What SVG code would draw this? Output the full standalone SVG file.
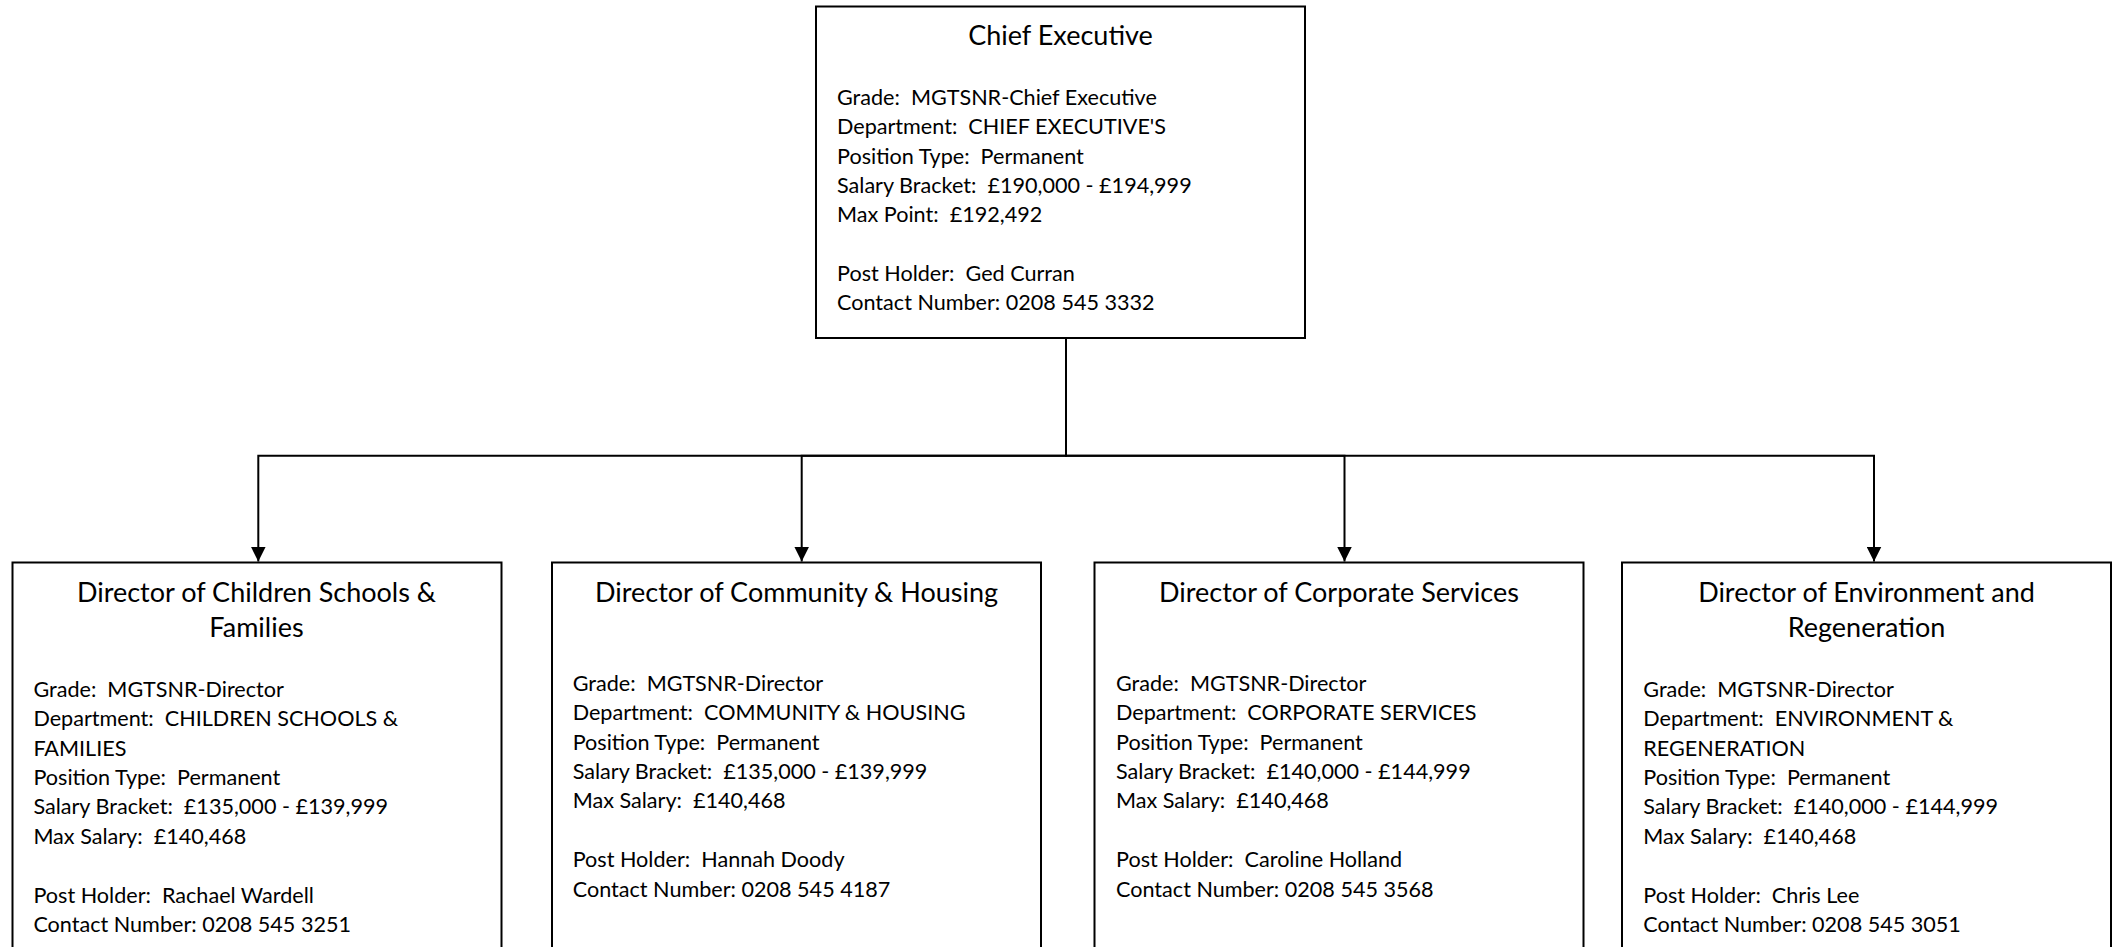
<svg xmlns="http://www.w3.org/2000/svg" width="2121" height="947" viewBox="0 0 2121 947">
<style>
.box{fill:#fff;stroke:#000;stroke-width:2}
.title{font-family:Lato,"Open Sans","Liberation Sans",sans-serif;font-size:27px;fill:#000;text-anchor:middle}
.body{font-family:Lato,"Open Sans","Liberation Sans",sans-serif;font-size:21.6px;fill:#000;white-space:pre}
.conn{fill:none;stroke:#000;stroke-width:2}
</style>
<defs>
<marker id="arr" viewBox="0 0 15 15" refX="15" refY="7.5" markerWidth="15" markerHeight="15" markerUnits="userSpaceOnUse" orient="auto">
<path d="M0,0 L15,7.5 L0,15 z" fill="#000"/>
</marker>
</defs>
<rect width="2121" height="947" fill="#fff"/>
<g id="connectors">
<path class="conn" d="M1066,338 V455.7 H258.3 V561.5" marker-end="url(#arr)"/>
<path class="conn" d="M1066,338 V455.7 H801.7 V561.5" marker-end="url(#arr)"/>
<path class="conn" d="M1066,338 V455.7 H1344.5 V561.5" marker-end="url(#arr)"/>
<path class="conn" d="M1066,338 V455.7 H1874 V561.5" marker-end="url(#arr)"/>
</g>
<g id="chief">
<rect class="box" x="816" y="6.5" width="489" height="331.5"/>
<text class="title" x="1060.5" y="45">Chief Executive</text>
<text class="body" xml:space="preserve"><tspan x="837" y="105">Grade:  MGTSNR-Chief Executive</tspan><tspan x="837" y="134.3">Department:  CHIEF EXECUTIVE'S</tspan><tspan x="837" y="163.5">Position Type:  Permanent</tspan><tspan x="837" y="192.8">Salary Bracket:  £190,000 - £194,999</tspan><tspan x="837" y="222">Max Point:  £192,492</tspan><tspan x="837" y="280.5">Post Holder:  Ged Curran</tspan><tspan x="837" y="309.8">Contact Number: 0208 545 3332</tspan></text>
</g>
<g id="dir-children">
<rect class="box" x="12.5" y="562.5" width="489" height="400"/>
<text class="title" x="256.5"><tspan x="256.5" y="601.5">Director of Children Schools &amp;</tspan><tspan x="256.5" y="637">Families</tspan></text>
<text class="body" xml:space="preserve"><tspan x="33.4" y="696.7">Grade:  MGTSNR-Director</tspan><tspan x="33.4" y="726.1">Department:  CHILDREN SCHOOLS &amp;</tspan><tspan x="33.4" y="755.5">FAMILIES</tspan><tspan x="33.4" y="784.9">Position Type:  Permanent</tspan><tspan x="33.4" y="814.3">Salary Bracket:  £135,000 - £139,999</tspan><tspan x="33.4" y="843.7">Max Salary:  £140,468</tspan><tspan x="33.4" y="902.5">Post Holder:  Rachael Wardell</tspan><tspan x="33.4" y="931.9">Contact Number: 0208 545 3251</tspan></text>
</g>
<g id="dir-community">
<rect class="box" x="552" y="562.5" width="489" height="400"/>
<text class="title" x="796.5" y="601.5">Director of Community &amp; Housing</text>
<text class="body" xml:space="preserve"><tspan x="572.7" y="690.7">Grade:  MGTSNR-Director</tspan><tspan x="572.7" y="720.1">Department:  COMMUNITY &amp; HOUSING</tspan><tspan x="572.7" y="749.5">Position Type:  Permanent</tspan><tspan x="572.7" y="778.9">Salary Bracket:  £135,000 - £139,999</tspan><tspan x="572.7" y="808.3">Max Salary:  £140,468</tspan><tspan x="572.7" y="867.1">Post Holder:  Hannah Doody</tspan><tspan x="572.7" y="896.5">Contact Number: 0208 545 4187</tspan></text>
</g>
<g id="dir-corporate">
<rect class="box" x="1094.5" y="562.5" width="489" height="400"/>
<text class="title" x="1339" y="601.5">Director of Corporate Services</text>
<text class="body" xml:space="preserve"><tspan x="1116" y="690.7">Grade:  MGTSNR-Director</tspan><tspan x="1116" y="720.1">Department:  CORPORATE SERVICES</tspan><tspan x="1116" y="749.5">Position Type:  Permanent</tspan><tspan x="1116" y="778.9">Salary Bracket:  £140,000 - £144,999</tspan><tspan x="1116" y="808.3">Max Salary:  £140,468</tspan><tspan x="1116" y="867.1">Post Holder:  Caroline Holland</tspan><tspan x="1116" y="896.5">Contact Number: 0208 545 3568</tspan></text>
</g>
<g id="dir-environment">
<rect class="box" x="1622" y="562.5" width="489" height="400"/>
<text class="title" x="1866.5"><tspan x="1866.5" y="601.5">Director of Environment and</tspan><tspan x="1866.5" y="637">Regeneration</tspan></text>
<text class="body" xml:space="preserve"><tspan x="1643.3" y="696.7">Grade:  MGTSNR-Director</tspan><tspan x="1643.3" y="726.1">Department:  ENVIRONMENT &amp;</tspan><tspan x="1643.3" y="755.5">REGENERATION</tspan><tspan x="1643.3" y="784.9">Position Type:  Permanent</tspan><tspan x="1643.3" y="814.3">Salary Bracket:  £140,000 - £144,999</tspan><tspan x="1643.3" y="843.7">Max Salary:  £140,468</tspan><tspan x="1643.3" y="902.5">Post Holder:  Chris Lee</tspan><tspan x="1643.3" y="931.9">Contact Number: 0208 545 3051</tspan></text>
</g>
</svg>
